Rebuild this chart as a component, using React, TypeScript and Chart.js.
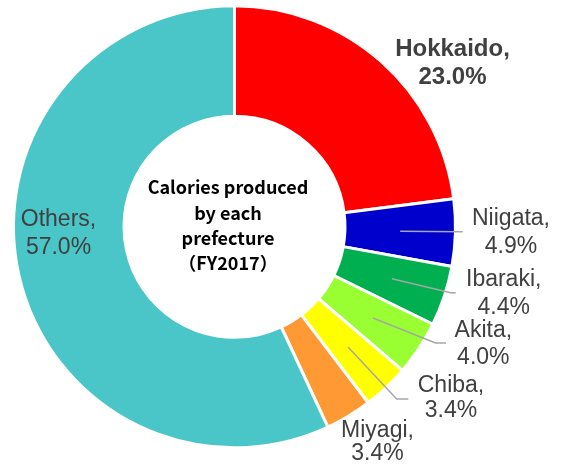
import React, { useEffect, useRef } from "react";
import { Chart, registerables } from "chart.js";

Chart.register(...registerables);

// ---- data ----
const categories = ["Hokkaido", "Niigata", "Ibaraki", "Akita", "Chiba", "Miyagi", "Others"];
const shares = [23.0, 4.9, 4.4, 4.0, 3.4, 3.4, 57.0];
const sliceColors = ["#FF0000", "#0000CC", "#00B050", "#99FF33", "#FFFF00", "#FF9933", "#4BC6C8"];
const centerTitle = ["Calories produced", "by each", "prefecture", "（FY2017）"];

// ---- label layout (offsets from the doughnut centre, px) ----
type Lay = { dx: number; y1: number; y2: number; bold?: boolean; leader?: number[][] };
const labelLayout: Lay[] = [
  { dx: 218, y1: -170.8, y2: -143.3, bold: true },
  { dx: 276.5, y1: -1.8, y2: 26.2, leader: [[228.2, 4.9]] },
  { dx: 269.2, y1: 59.6, y2: 87.2, leader: [[216.2, 65.9], [221.2, 65.9]] },
  { dx: 248.8, y1: 110.6, y2: 137.2, leader: [[201, 116.2], [211.5, 116.2]] },
  { dx: 216.5, y1: 164.9, y2: 190.6, leader: [[162.2, 172.2], [173.8, 172.2]] },
  { dx: 143, y1: 210.6, y2: 232.9 },
  { dx: -176, y1: -1.1, y2: 27.2 },
];
const centerLayout = { dx: -6.5, baselines: [-32.8, -7.3, 18.2, 43.2] };

const labelPlugin = {
  id: "sliceLabels",
  afterDatasetsDraw(chart: any) {
    const ctx = chart.ctx as CanvasRenderingContext2D;
    const meta = chart.getDatasetMeta(0);
    const arcs = meta.data as any[];
    if (!arcs.length) return;
    const cx = arcs[0].x;
    const cy = arcs[0].y;
    ctx.save();
    arcs.forEach((arc, i) => {
      const lay = labelLayout[i];
      if (lay.leader) {
        const p = arc.getCenterPoint();
        ctx.beginPath();
        ctx.moveTo(p.x, p.y);
        lay.leader.forEach(([dx, dy]) => ctx.lineTo(cx + dx, cy + dy));
        ctx.strokeStyle = "#A6A6A6";
        ctx.lineWidth = 1.5;
        ctx.stroke();
      }
      ctx.font = lay.bold
        ? 'bold 24px "Liberation Sans", Arial, sans-serif'
        : '23px "Liberation Sans", Arial, sans-serif';
      ctx.fillStyle = "#404040";
      ctx.textAlign = "center";
      ctx.textBaseline = "alphabetic";
      ctx.fillText(categories[i] + ",", cx + lay.dx, cy + lay.y1);
      ctx.fillText(shares[i].toFixed(1) + "%", cx + lay.dx, cy + lay.y2);
    });
    ctx.font = 'bold 18px "Noto Sans CJK JP", sans-serif';
    ctx.fillStyle = "#000000";
    ctx.textAlign = "center";
    centerTitle.forEach((t, i) => {
      ctx.fillText(t, cx + centerLayout.dx, cy + centerLayout.baselines[i]);
    });
    ctx.restore();
  },
};

export default function App() {
  const ref = useRef<HTMLCanvasElement | null>(null);
  useEffect(() => {
    if (!ref.current) return;
    const chart = new Chart(ref.current, {
      type: "doughnut",
      data: {
        labels: categories,
        datasets: [
          {
            data: shares,
            backgroundColor: sliceColors,
            borderColor: "#FFFFFF",
            borderWidth: 3,
          },
        ],
      },
      options: {
        responsive: false,
        animation: false,
        radius: 221,
        cutout: "50%",
        layout: { padding: { left: 13.5, right: 110.5, top: 5.8, bottom: 20.2 } },
        plugins: { legend: { display: false }, tooltip: { enabled: false } },
      } as any,
      plugins: [labelPlugin],
    });
    return () => chart.destroy();
  }, []);
  return (
    <div style={{ position: "fixed", left: 0, top: 0, width: 566, height: 468, background: "#fff" }}>
      <canvas ref={ref} width={566} height={468} style={{ display: "block" }} />
    </div>
  );
}
